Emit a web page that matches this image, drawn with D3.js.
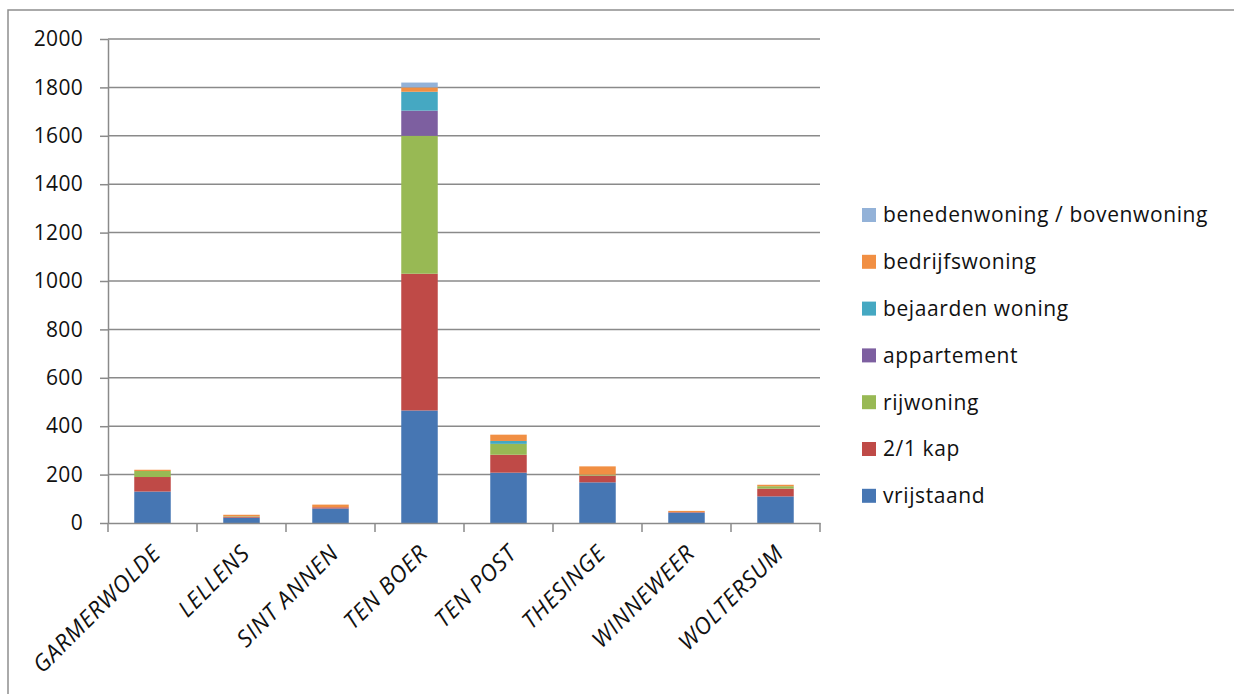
<!DOCTYPE html>
<html>
<head>
<meta charset="utf-8">
<script src="https://cdn.jsdelivr.net/npm/d3@7"></script>
<style>
  html, body { margin: 0; padding: 0; background: #fff; }
  svg { display: block; }
  text { font-family: "Open Sans", "DejaVu Sans", sans-serif; fill: #111; }
</style>
</head>
<body>
<svg id="chart" width="1234" height="694"></svg>
<script>
// Villages (x categories)
const categories = ["GARMERWOLDE", "LELLENS", "SINT ANNEN", "TEN BOER", "TEN POST", "THESINGE", "WINNEWEER", "WOLTERSUM"];

// Number of dwellings per type, one value per village
const vrijstaand      = [130, 22, 60, 465, 208, 168, 43, 110];
const kap21           = [60, 4, 5, 565, 74, 28, 2, 32];
const rijwoning       = [25, 2, 0, 570, 45, 4, 0, 10];
const appartement     = [0, 0, 0, 104, 0, 0, 0, 0];
const bejaarden       = [0, 0, 0, 78, 12, 0, 0, 0];
const bedrijfswoning  = [5, 6, 11, 18, 26, 34, 5, 6];
const benedenBoven    = [0, 0, 0, 20, 0, 0, 0, 0];

// Series in stacking order (bottom to top)
const seriesNames = ["vrijstaand", "2/1 kap", "rijwoning", "appartement", "bejaarden woning", "bedrijfswoning", "benedenwoning / bovenwoning"];
const seriesValues = [vrijstaand, kap21, rijwoning, appartement, bejaarden, bedrijfswoning, benedenBoven];
const seriesColors = ["#4676b3", "#bf4a47", "#98b954", "#7d5fa0", "#45a8c2", "#f18f43", "#93b2d8"];

const yTicks = [0, 200, 400, 600, 800, 1000, 1200, 1400, 1600, 1800, 2000];

const svg = d3.select("#chart");
const W = 1234, H = 694;

svg.append("rect").attr("width", W).attr("height", H).attr("fill", "#fff");

// outer chart frame
svg.append("rect")
  .attr("x", 8).attr("y", 10)
  .attr("width", W + 40).attr("height", H + 40)
  .attr("fill", "none").attr("stroke", "#8e8e8e").attr("stroke-width", 1.5);

const plot = { left: 108, right: 820, top: 39, bottom: 523 };

const x = d3.scaleBand().domain(categories).range([plot.left, plot.right]).padding(0);
const y = d3.scaleLinear().domain([0, 2000]).range([plot.bottom, plot.top]);

// horizontal gridlines
svg.append("g")
  .selectAll("line")
  .data(yTicks.filter(d => d > 0))
  .join("line")
  .attr("x1", plot.left).attr("x2", plot.right)
  .attr("y1", d => y(d)).attr("y2", d => y(d))
  .attr("stroke", "#8a8a8a").attr("stroke-width", 1.5);

// stacked data
const rows = categories.map((c, i) => {
  const r = { cat: c };
  seriesNames.forEach((s, k) => { r[s] = seriesValues[k][i]; });
  return r;
});
const stack = d3.stack().keys(seriesNames)(rows);

const barW = x.bandwidth() * 0.41;
svg.append("g")
  .selectAll("g")
  .data(stack)
  .join("g")
  .attr("fill", (d, k) => seriesColors[k])
  .selectAll("rect")
  .data(d => d)
  .join("rect")
  .attr("x", d => x(d.data.cat) + (x.bandwidth() - barW) / 2)
  .attr("width", barW)
  .attr("y", d => y(d[1]))
  .attr("height", d => Math.max(0, y(d[0]) - y(d[1])));

// y axis
const yAxis = svg.append("g")
  .attr("transform", `translate(${plot.left},0)`)
  .call(d3.axisLeft(y).tickValues(yTicks).tickFormat(d3.format("d"))
    .tickSize(8).tickSizeOuter(0).tickPadding(17));
yAxis.select(".domain").attr("stroke", "#8a8a8a").attr("stroke-width", 1.5);
yAxis.selectAll(".tick line").attr("stroke", "#8a8a8a").attr("stroke-width", 1.5);
yAxis.selectAll(".tick text")
  .style("font-family", "'Open Sans', sans-serif")
  .style("font-size", "21px")
  .style("font-weight", "500")
  .style("letter-spacing", "0.3px")
  .attr("fill", "#111");

// x axis line and tick marks at category boundaries
const xAxis = svg.append("g")
  .attr("transform", `translate(0,${plot.bottom})`)
  .call(d3.axisBottom(x).tickSize(0).tickFormat(""));
xAxis.select(".domain").attr("stroke", "#8a8a8a").attr("stroke-width", 1.5);

const boundaries = categories.map(c => x(c)).concat([plot.right]);
svg.append("g")
  .selectAll("line")
  .data(boundaries)
  .join("line")
  .attr("x1", d => d).attr("x2", d => d)
  .attr("y1", plot.bottom).attr("y2", plot.bottom + 9)
  .attr("stroke", "#8a8a8a").attr("stroke-width", 1.5);

// rotated category labels
svg.append("g")
  .selectAll("text")
  .data(categories)
  .join("text")
  .attr("transform", d => `translate(${x(d) + x.bandwidth() / 2 + 4},${plot.bottom + 26}) rotate(-45)`)
  .attr("text-anchor", "end")
  .attr("dy", "0.35em")
  .style("font-size", "23px")
  .style("font-style", "italic")
  .style("font-weight", "500")
  .style("letter-spacing", "0.8px")
  .text(d => d);

// legend (top entry is the last series)
const legendOrder = seriesNames.map((s, k) => k).reverse();
const legend = svg.append("g").attr("transform", "translate(862,215)");
const li = legend.selectAll("g")
  .data(legendOrder)
  .join("g")
  .attr("transform", (k, i) => `translate(0,${i * 46.8})`);
li.append("rect")
  .attr("x", 0).attr("y", -7)
  .attr("width", 14).attr("height", 14)
  .attr("fill", k => seriesColors[k]);
li.append("text")
  .attr("x", 21).attr("y", 0).attr("dy", "0.35em")
  .style("font-size", "21px")
  .style("font-weight", "500")
  .style("letter-spacing", "0.6px")
  .text(k => seriesNames[k]);
</script>
</body>
</html>
